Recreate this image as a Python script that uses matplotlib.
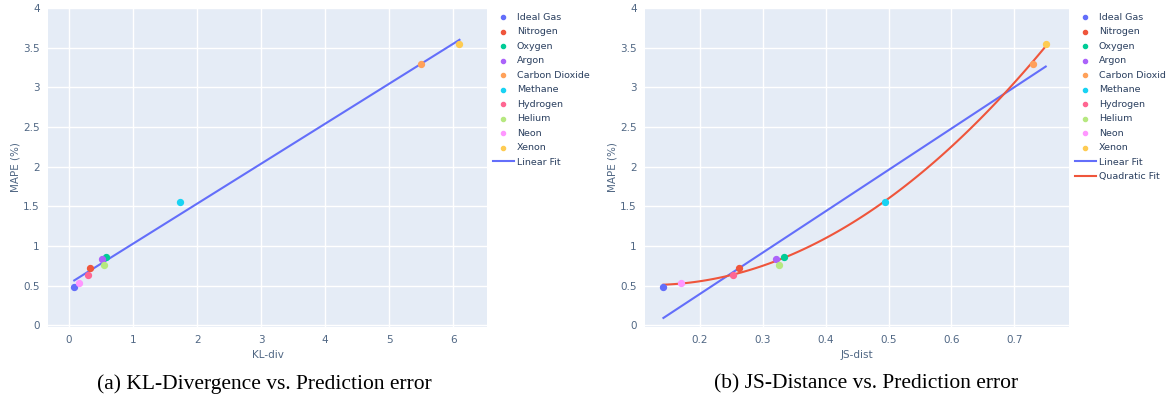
import matplotlib.pyplot as plt
import numpy as np

gases = ["Ideal Gas", "Nitrogen", "Oxygen", "Argon", "Carbon Dioxide",
         "Methane", "Hydrogen", "Helium", "Neon", "Xenon"]
kl_div = [0.08, 0.33, 0.58, 0.52, 5.50, 1.74, 0.30, 0.55, 0.15, 6.10]
js_dist = [0.142, 0.262, 0.333, 0.321, 0.730, 0.495, 0.253, 0.326, 0.170, 0.750]
mape = [0.48, 0.72, 0.86, 0.84, 3.30, 1.56, 0.64, 0.76, 0.54, 3.55]

colors = ["#636EFA", "#EF553B", "#00CC96", "#AB63FA", "#FFA15A",
          "#19D3F3", "#FF6692", "#B6E880", "#FF97FF", "#FECB52"]
bg = "#E5ECF6"
tick_col = "#506784"

W, H = 1166, 399
fig = plt.figure(figsize=(W/100, H/100), dpi=100)

def px_axes(x0, x1, y0, y1):
    return fig.add_axes([x0/W, 1 - y1/H, (x1-x0)/W, (y1-y0)/H])

def style(ax):
    ax.set_facecolor(bg)
    for s in ax.spines.values():
        s.set_visible(False)
    ax.grid(True, color="white", linewidth=1.0)
    ax.set_axisbelow(True)
    ax.tick_params(length=0, labelsize=7.5, colors=tick_col, pad=6)
    ax.set_ylim(-0.02, 4)
    ax.set_yticks([0, 0.5, 1, 1.5, 2, 2.5, 3, 3.5, 4])
    ax.set_yticklabels(["0", "0.5", "1", "1.5", "2", "2.5", "3", "3.5", "4"])
    ax.set_ylabel("MAPE (%)", fontsize=7.5, color=tick_col, labelpad=2)

def add_legend(ax, handles, x, y):
    ax.legend(handles=handles, loc="upper left", bbox_to_anchor=(x/W, 1 - y/H),
              bbox_transform=fig.transFigure, frameon=False, fontsize=6.8,
              labelspacing=0.58, handlelength=2.2, handletextpad=0.35,
              borderaxespad=0, labelcolor="#2a3f5f", markerscale=0.7)

# (a) KL divergence
ax1 = px_axes(48, 487, 8, 327)
style(ax1)
ax1.set_xlim(-0.33, 6.53)
ax1.set_xticks(range(7))
handles = []
for g, xv, yv, c in zip(gases, kl_div, mape, colors):
    handles.append(ax1.scatter(xv, yv, s=18, color=c, label=g, zorder=3))
k = np.polyfit(kl_div, mape, 1)
xl = np.array([min(kl_div), max(kl_div)])
ln, = ax1.plot(xl, np.polyval(k, xl), color="#636EFA", lw=1.5, label="Linear Fit", zorder=2)
handles.append(ln)
ax1.set_xlabel("KL-div", fontsize=7.5, color=tick_col, labelpad=3)
add_legend(ax1, handles, 489, 9)

# (b) JS distance
ax2 = px_axes(645, 1069, 8, 327)
style(ax2)
ax2.set_xlim(0.1127, 0.787)
ax2.set_xticks([0.2, 0.3, 0.4, 0.5, 0.6, 0.7])
ax2.set_xticklabels(["0.2", "0.3", "0.4", "0.5", "0.6", "0.7"])
handles = []
for g, xv, yv, c in zip(gases, js_dist, mape, colors):
    handles.append(ax2.scatter(xv, yv, s=18, color=c, label=g, zorder=3))
xs = np.linspace(min(js_dist), max(js_dist), 100)
k1 = np.polyfit(js_dist, mape, 1)
k2 = np.polyfit(js_dist, mape, 2)
l1, = ax2.plot(xs, np.polyval(k1, xs), color="#636EFA", lw=1.5, label="Linear Fit", zorder=2)
l2, = ax2.plot(xs, np.polyval(k2, xs), color="#EF553B", lw=1.5, label="Quadratic Fit", zorder=2)
handles += [l1, l2]
ax2.set_xlabel("JS-dist", fontsize=7.5, color=tick_col, labelpad=3)
add_legend(ax2, handles, 1071, 9)

fig.text(264/W, 1 - 384/H, "(a) KL-Divergence vs. Prediction error",
         ha="center", va="center", fontsize=15.5, family="Liberation Serif")
fig.text(866/W, 1 - 384/H, "(b) JS-Distance vs. Prediction error",
         ha="center", va="center", fontsize=15.5, family="Liberation Serif")

fig.savefig("out.png", dpi=100, facecolor="white")
